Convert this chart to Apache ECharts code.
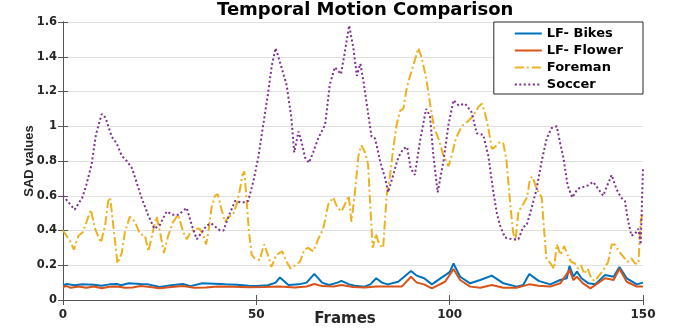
<!DOCTYPE html>
<html>
<head>
<meta charset="utf-8">
<script src="https://cdn.jsdelivr.net/npm/echarts@6/dist/echarts.min.js"></script>
<style>
  html, body { margin: 0; padding: 0; background: #fff; }
  #chart { width: 678px; height: 333px; }
</style>
</head>
<body>
<div id="chart"></div>
<script>
// values
const bikesFrames = [0, 1, 3, 5, 8, 10, 12, 14, 15, 17, 20, 22, 25, 28, 31, 33, 36, 39, 42, 45, 48, 50, 53, 55, 56.1, 58.3, 61, 63, 65, 67, 68.8, 71, 72, 74, 75.5, 78, 79.5, 81, 82.5, 84, 86.7, 90, 91.5, 93.4, 95.4, 98, 100, 101, 102.7, 105.3, 107.9, 110.9, 113.9, 117.3, 119, 120.6, 123, 126, 128.6, 130.3, 131, 132, 132.9, 134.1, 135.9, 137.6, 140.2, 142.4, 143.9, 145.8, 148.4, 150];
const bikesValues = [0.085, 0.092, 0.085, 0.09, 0.088, 0.082, 0.09, 0.092, 0.085, 0.096, 0.092, 0.09, 0.075, 0.085, 0.092, 0.08, 0.096, 0.094, 0.09, 0.088, 0.082, 0.08, 0.085, 0.1, 0.13, 0.086, 0.09, 0.1, 0.15, 0.1, 0.086, 0.1, 0.11, 0.09, 0.082, 0.077, 0.09, 0.125, 0.1, 0.09, 0.105, 0.167, 0.14, 0.125, 0.09, 0.13, 0.16, 0.21, 0.134, 0.096, 0.115, 0.14, 0.096, 0.077, 0.086, 0.15, 0.11, 0.09, 0.115, 0.125, 0.196, 0.134, 0.163, 0.125, 0.096, 0.09, 0.144, 0.134, 0.19, 0.125, 0.09, 0.1];

const flowerFrames = [0, 1, 2, 4, 6, 8, 10, 12, 14, 16, 18, 20, 22, 25, 28, 31, 34, 37, 40, 44, 48, 52, 56, 60, 63, 65, 67, 70, 72, 75, 78, 81, 84, 87.6, 90, 91.5, 93.4, 95.4, 98.8, 101, 102.7, 105.3, 107.9, 110.9, 113.9, 117.3, 120.6, 123, 126, 128.6, 131, 132, 132.9, 134.5, 136.4, 140.2, 142.4, 143.9, 145.8, 148.4, 150];
const flowerValues = [0.075, 0.08, 0.07, 0.078, 0.07, 0.078, 0.068, 0.076, 0.078, 0.07, 0.072, 0.08, 0.076, 0.068, 0.075, 0.08, 0.07, 0.072, 0.078, 0.076, 0.074, 0.075, 0.078, 0.072, 0.078, 0.092, 0.08, 0.078, 0.086, 0.075, 0.072, 0.078, 0.077, 0.077, 0.134, 0.1, 0.09, 0.067, 0.105, 0.178, 0.115, 0.077, 0.071, 0.086, 0.071, 0.071, 0.09, 0.082, 0.077, 0.096, 0.173, 0.115, 0.134, 0.096, 0.067, 0.125, 0.115, 0.18, 0.105, 0.077, 0.077];

const foremanFrames = [0, 1.8, 2.8, 4, 5.1, 6.1, 7.2, 8.3, 9.8, 10.9, 11.7, 12.2, 13.2, 14.1, 15.2, 16, 17.3, 18.6, 19.9, 21.2, 22.1, 23.2, 24.2, 25.1, 26.1, 27.2, 28.5, 29.8, 31.1, 32, 33, 34.1, 35.4, 36.3, 37, 37.6, 38.4, 39.3, 40, 40.9, 41.9, 42.9, 44, 44.9, 45.8, 46.4, 46.9, 47.5, 48.1, 48.8, 49.6, 50.9, 52, 53, 53.9, 55.2, 56.7, 57.8, 58.9, 60, 61.3, 62.4, 63.4, 64.7, 66, 67.3, 68.6, 69.9, 71, 72, 72.9, 73.9, 74.6, 75.5, 76.4, 77.2, 78.1, 78.9, 79.6, 80.1, 80.9, 81.8, 82.8, 83.7, 84.6, 85.4, 86.3, 87.2, 88, 88.9, 89.9, 91, 91.9, 92.8, 93.9, 95, 96, 97.1, 98.4, 99.7, 100.5, 101.6, 103.1, 104.8, 106.1, 107.4, 108.3, 109.1, 110, 110.9, 111.7, 113, 113.9, 114.7, 115.6, 116.4, 117, 117.8, 118.7, 120, 120.8, 121.4, 122.5, 123.8, 124.4, 125, 126.1, 127, 127.7, 128.7, 129.6, 130.5, 131.4, 132.4, 133.3, 134, 134.8, 135.7, 136.7, 137.6, 138.6, 139.7, 141, 141.9, 142.7, 143.8, 144.9, 146, 147, 147.9, 148.8, 149.4, 150];
const foremanValues = [0.40, 0.34, 0.29, 0.37, 0.39, 0.45, 0.52, 0.41, 0.33, 0.43, 0.57, 0.59, 0.39, 0.21, 0.27, 0.39, 0.48, 0.45, 0.38, 0.37, 0.28, 0.39, 0.48, 0.39, 0.27, 0.37, 0.45, 0.49, 0.39, 0.35, 0.39, 0.41, 0.41, 0.37, 0.32, 0.39, 0.53, 0.60, 0.61, 0.53, 0.45, 0.48, 0.49, 0.55, 0.64, 0.72, 0.74, 0.57, 0.39, 0.26, 0.24, 0.23, 0.32, 0.26, 0.19, 0.26, 0.28, 0.22, 0.18, 0.20, 0.22, 0.29, 0.30, 0.28, 0.35, 0.41, 0.55, 0.59, 0.53, 0.51, 0.55, 0.60, 0.45, 0.62, 0.83, 0.89, 0.85, 0.78, 0.49, 0.30, 0.38, 0.32, 0.30, 0.60, 0.72, 0.87, 1.01, 1.09, 1.10, 1.22, 1.30, 1.38, 1.45, 1.39, 1.28, 1.12, 0.99, 0.93, 0.83, 0.77, 0.83, 0.93, 1.00, 1.03, 1.06, 1.11, 1.13, 1.08, 0.99, 0.87, 0.88, 0.91, 0.90, 0.80, 0.57, 0.39, 0.34, 0.51, 0.54, 0.59, 0.70, 0.71, 0.64, 0.59, 0.41, 0.24, 0.21, 0.18, 0.32, 0.26, 0.31, 0.26, 0.22, 0.21, 0.18, 0.20, 0.15, 0.18, 0.12, 0.11, 0.14, 0.17, 0.22, 0.32, 0.32, 0.28, 0.25, 0.22, 0.24, 0.21, 0.21, 0.45, 0.51];

const soccerFrames = [0, 3, 5, 6, 7.4, 8.5, 10, 11, 12.6, 13.9, 15.2, 16.5, 17.8, 19, 20.3, 22, 23.6, 25, 26.8, 28.5, 29.8, 32, 33.3, 34.6, 35.9, 37.2, 38.4, 40.6, 41.5, 42.8, 44.5, 46.2, 47.9, 49.2, 50.5, 51.8, 53.1, 54, 55, 56.1, 57.8, 59, 59.8, 60.9, 61.7, 62.6, 63.6, 64.7, 66, 67.8, 69, 70.3, 71.9, 72.9, 74, 75.1, 76, 76.9, 77.7, 79, 79.8, 80.7, 82, 83.3, 84.1, 85.4, 86.7, 88, 89, 89.9, 91, 92.3, 93.9, 94.9, 95.8, 96.9, 98.4, 99.7, 101, 102.3, 104, 105.7, 107, 108.7, 110, 111.3, 112.2, 113, 114.3, 116, 117.8, 119, 119.9, 121.2, 122.5, 123.8, 125.1, 126.4, 127.7, 128.5, 129.4, 130.5, 131.7, 133.1, 134.5, 135.8, 137.1, 138.4, 139.7, 140.6, 141.9, 143.1, 144.3, 145.3, 146.2, 147, 147.9, 148.8, 149.4, 150];
const soccerValues = [0.60, 0.52, 0.59, 0.66, 0.78, 0.95, 1.07, 1.05, 0.94, 0.90, 0.83, 0.80, 0.76, 0.68, 0.59, 0.49, 0.41, 0.43, 0.51, 0.49, 0.49, 0.53, 0.43, 0.35, 0.39, 0.43, 0.44, 0.40, 0.40, 0.48, 0.57, 0.56, 0.57, 0.68, 0.82, 1.01, 1.20, 1.35, 1.45, 1.37, 1.24, 1.06, 0.85, 0.97, 0.91, 0.82, 0.79, 0.85, 0.93, 1.01, 1.24, 1.34, 1.30, 1.43, 1.58, 1.45, 1.29, 1.36, 1.26, 1.06, 0.94, 0.93, 0.80, 0.70, 0.62, 0.72, 0.82, 0.87, 0.88, 0.76, 0.72, 0.91, 1.10, 1.06, 0.83, 0.62, 0.80, 1.01, 1.15, 1.12, 1.13, 1.08, 0.96, 0.95, 0.83, 0.62, 0.50, 0.43, 0.36, 0.35, 0.35, 0.42, 0.43, 0.53, 0.64, 0.80, 0.93, 0.99, 1.00, 0.91, 0.82, 0.66, 0.59, 0.64, 0.65, 0.66, 0.68, 0.64, 0.60, 0.65, 0.72, 0.64, 0.59, 0.57, 0.45, 0.37, 0.38, 0.41, 0.32, 0.76];

const xTicks = [0, 50, 100, 150];

const pairs = (xs, ys) => xs.map((x, i) => [x, ys[i]]);

const font = 'DejaVu Sans, sans-serif';
const axisColor = '#555';
const textColor = '#262626';

const chart = echarts.init(document.getElementById('chart'));

function lineSeries(name, xs, ys, color, type) {
  return {
    name: name,
    type: 'line',
    data: pairs(xs, ys),
    showSymbol: false,
    symbol: 'none',
    animation: false,
    lineStyle: { color: color, width: 2, type: type },
    itemStyle: { color: color },
  };
}

// box axes (top / right) with inward ticks, like a matlab figure
const boxAxis = {
  axisLine: { show: true, lineStyle: { color: axisColor, width: 1 } },
  axisTick: { show: true, inside: true, length: 5, lineStyle: { color: axisColor } },
  axisLabel: { show: false },
  splitLine: { show: false },
};

const option = {
  backgroundColor: '#fff',
  title: {
    text: 'Temporal Motion Comparison',
    left: 217,
    top: 1,
    padding: 0,
    textStyle: { fontFamily: font, fontSize: 18, fontWeight: 'bold', color: '#000' },
  },
  legend: {
    orient: 'vertical',
    right: 35,
    top: 22,
    padding: [5, 20, 3, 20],
    itemWidth: 27,
    itemHeight: 12,
    itemGap: 4,
    backgroundColor: '#fff',
    borderColor: '#262626',
    borderWidth: 1,
    borderRadius: 0,
    itemStyle: { opacity: 0 },
    textStyle: { fontFamily: font, fontSize: 13, fontWeight: 'bold', color: '#000' },
    data: ['LF- Bikes', 'LF- Flower', 'Foreman', 'Soccer'],
  },
  grid: { left: 63, right: 35, top: 22, bottom: 33, outerBoundsMode: 'none' },
  xAxis: [
    {
      type: 'value',
      min: 0,
      max: 150,
      interval: 50,
      name: 'Frames',
      nameLocation: 'middle',
      nameGap: 12,
      nameMoveOverlap: false,
      nameTextStyle: { fontFamily: font, fontSize: 15, fontWeight: 'bold', color: textColor,
        padding: [0, 16, 0, 0] },
      axisLine: { show: true, lineStyle: { color: axisColor, width: 1 } },
      axisTick: { show: true, inside: true, length: 5, lineStyle: { color: axisColor } },
      axisLabel: { margin: 9, fontFamily: font, fontSize: 12, fontWeight: 'bold', color: textColor,
        customValues: xTicks },
      splitLine: { show: false },
    },
    Object.assign({ type: 'value', position: 'top', min: 0, max: 150, interval: 50 }, boxAxis),
  ],
  yAxis: [
    {
      type: 'value',
      min: 0,
      max: 1.6,
      interval: 0.2,
      name: 'SAD values',
      nameLocation: 'middle',
      nameGap: 27,
      nameMoveOverlap: false,
      nameTextStyle: { fontFamily: 'Liberation Sans, Arial, sans-serif', fontSize: 13, fontWeight: 'bold', color: textColor },
      axisLine: { show: true, lineStyle: { color: axisColor, width: 1 } },
      axisTick: { show: true, inside: true, length: 5, lineStyle: { color: axisColor } },
      axisLabel: {
        margin: 6, fontFamily: font, fontSize: 11.5, fontWeight: 'bold', color: textColor,
        formatter: v => String(+v.toFixed(1)),
      },
      splitLine: { show: true, lineStyle: { color: '#e0e0e0', width: 1 } },
    },
    Object.assign({ type: 'value', position: 'right', min: 0, max: 1.6, interval: 0.2 }, boxAxis),
  ],
  series: [
    lineSeries('LF- Bikes', bikesFrames, bikesValues, '#0072BD', 'solid'),
    lineSeries('LF- Flower', flowerFrames, flowerValues, '#D95319', 'solid'),
    lineSeries('Foreman', foremanFrames, foremanValues, '#EDB120', [9, 3, 2, 3]),
    lineSeries('Soccer', soccerFrames, soccerValues, '#7E2F8E', [2, 2.5]),
  ],
};

chart.setOption(option);
</script>
</body>
</html>
